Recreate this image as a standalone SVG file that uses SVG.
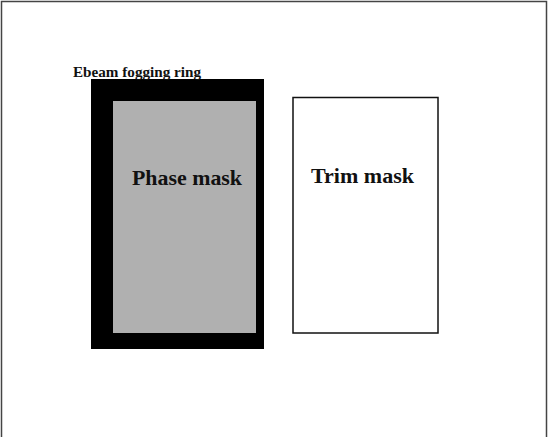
<svg xmlns="http://www.w3.org/2000/svg" width="548" height="437" viewBox="0 0 548 437">
<style>
text{font-family:"Liberation Serif","Times New Roman",serif;font-weight:bold;fill:#111}
.big{font-size:22px}
.small{font-size:14px}
</style>
<rect x="0" y="0" width="548" height="437" fill="#fff"/>
<path d="M1.5,437 V1.5 H546.5 V437" fill="none" stroke="#444" stroke-width="1.5"/>
<g id="ebeam-ring">
<rect x="91" y="79" width="173" height="270" fill="#000"/>
<text class="small" x="73" y="77" textLength="128" lengthAdjust="spacingAndGlyphs">Ebeam fogging ring</text>
</g>
<g id="phase-mask">
<rect x="113" y="101" width="143" height="232" fill="#b0b0b0"/>
<text class="big" x="132" y="185" textLength="110" lengthAdjust="spacingAndGlyphs">Phase mask</text>
</g>
<g id="trim-mask">
<rect x="293" y="97.5" width="145" height="235.5" fill="#fff" stroke="#111" stroke-width="1.5"/>
<text class="big" x="311" y="183" textLength="103" lengthAdjust="spacingAndGlyphs">Trim mask</text>
</g>
<g id="connectors"/>
</svg>
